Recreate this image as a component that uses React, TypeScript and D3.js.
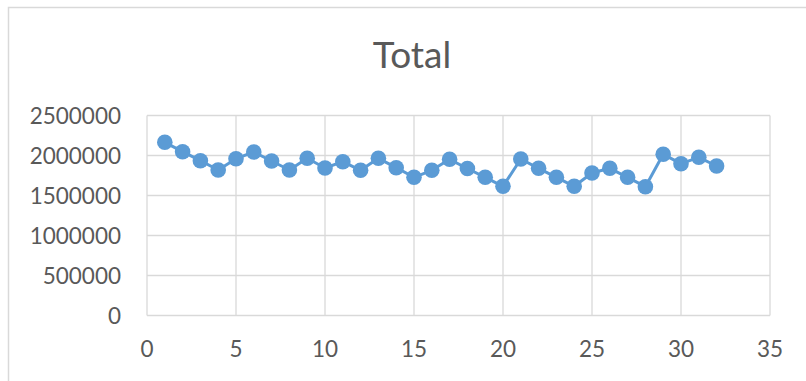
import React from "react";
import * as d3 from "d3";

const xValues = [1,2,3,4,5,6,7,8,9,10,11,12,13,14,15,16,17,18,19,20,21,22,23,24,25,26,27,28,29,30,31,32];
const totals = [2165000,2047500,1935000,1818750,1960000,2043750,1931250,1818750,1965000,1843750,1922500,1815000,1965000,1847500,1727500,1815000,1952500,1837500,1727500,1615000,1956250,1840000,1727500,1615000,1781250,1840000,1727500,1610000,2015000,1897500,1977500,1868750];
const xTicks = [0,5,10,15,20,25,30,35];
const yTicks = [0,500000,1000000,1500000,2000000,2500000];
const title = "Total";

const W = 806, H = 381;
const left = 147, right = 770, top = 115.5, bottom = 315.5;

export default function App() {
  const x = d3.scaleLinear().domain([0, 35]).range([left, right]);
  const y = d3.scaleLinear().domain([0, 2500000]).range([bottom, top]);
  const pts: [number, number][] = xValues.map((v, i) => [v, totals[i]]);
  const line = d3.line<[number, number]>().x(d => x(d[0])).y(d => y(d[1]));
  const grid = "#d9d9d9";
  const textColor = "#595959";
  const font = "Lato, 'Open Sans', sans-serif";
  return (
    <svg width={W} height={H} style={{ position: "absolute", left: 0, top: 0, background: "#fff" }}>
      <rect x={8.5} y={7.5} width={W + 10} height={H + 10} fill="#fff" stroke="#d9d9d9" strokeWidth={1.5} />
      <text x={412} y={68} textAnchor="middle" fontFamily={font} fontSize={37} fill={textColor}>{title}</text>
      {yTicks.map(t => (
        <line key={"gy" + t} x1={left} x2={right} y1={y(t)} y2={y(t)} stroke={grid} strokeWidth={1.3} />
      ))}
      {xTicks.map(t => (
        <line key={"gx" + t} x1={x(t)} x2={x(t)} y1={top} y2={bottom} stroke={grid} strokeWidth={1.3} />
      ))}
      {yTicks.map(t => (
        <text key={"ty" + t} x={121} y={y(t)} dy="0.36em" textAnchor="end" fontFamily={font} fontSize={22.5} fill={textColor}>{t}</text>
      ))}
      {xTicks.map(t => (
        <text key={"tx" + t} x={x(t)} y={357} textAnchor="middle" fontFamily={font} fontSize={22.5} fill={textColor}>{t}</text>
      ))}
      <path d={line(pts) || ""} fill="none" stroke="#5b9bd5" strokeWidth={3} strokeLinejoin="round" />
      {pts.map((d, i) => (
        <circle key={i} cx={x(d[0])} cy={y(d[1])} r={7.8} fill="#5b9bd5" />
      ))}
    </svg>
  );
}
